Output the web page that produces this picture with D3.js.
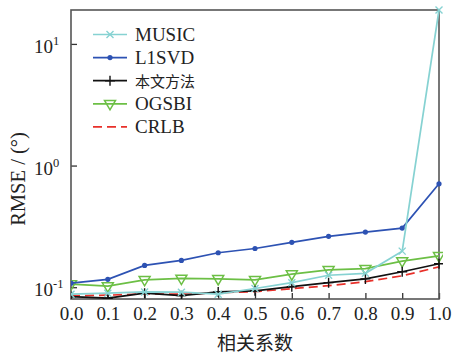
<!DOCTYPE html>
<html>
<head>
<meta charset="utf-8">
<script src="https://cdn.jsdelivr.net/npm/d3@7"></script>
<style>
  body { margin: 0; background: #fff; }
  svg { display: block; }
  text { font-family: "Liberation Serif", "DejaVu Serif", serif; fill: #222; }
  .cjk { font-family: "Noto Sans CJK SC", sans-serif; }
</style>
</head>
<body>
<script>
'use strict';

// correlation coefficient (x axis)
var rho = [0.0, 0.1, 0.2, 0.3, 0.4, 0.5, 0.6, 0.7, 0.8, 0.9, 1.0];

// RMSE values in degrees
var music = [0.0876, 0.0893, 0.0915, 0.091, 0.0876, 0.0976, 0.109, 0.1254, 0.130, 0.198, 19.0];
var l1svd = [0.108, 0.116, 0.151, 0.166, 0.192, 0.208, 0.234, 0.262, 0.284, 0.306, 0.708];
var proposed = [0.0836, 0.0812, 0.0893, 0.0852, 0.0915, 0.0933, 0.101, 0.109, 0.117, 0.134, 0.156];
var ogsbi = [0.106, 0.102, 0.115, 0.118, 0.117, 0.115, 0.128, 0.139, 0.142, 0.164, 0.181];
var crlb = [0.0849, 0.086, 0.0882, 0.0877, 0.0901, 0.0919, 0.0972, 0.103, 0.111, 0.124, 0.147];

var xTicks = [0.0, 0.1, 0.2, 0.3, 0.4, 0.5, 0.6, 0.7, 0.8, 0.9, 1.0];
var yTicks = [0.1, 1, 10];

var series = [
    { name: 'MUSIC', values: music, color: '#86d2d2', marker: 'x', dash: null },
    { name: 'L1SVD', values: l1svd, color: '#2d52b3', marker: 'dot', dash: null },
    { name: '本文方法', values: proposed, color: '#111111', marker: 'plus', dash: null },
    { name: 'OGSBI', values: ogsbi, color: '#6cbf45', marker: 'tri', dash: null },
    { name: 'CRLB', values: crlb, color: '#e8302a', marker: 'none', dash: '9,5' }
];

var W = 453, H = 357;
var margin = { left: 71, right: 14, top: 10, bottom: 58 };

var svg = d3.select('body').append('svg').attr('width', W).attr('height', H);

var x = d3.scaleLinear().domain([0, 1]).range([margin.left, W - margin.right]);
var y = d3.scaleLog().domain([0.08, 19.0]).range([H - margin.bottom, margin.top]);

svg.append('defs').append('clipPath').attr('id', 'clip')
    .append('rect')
    .attr('x', margin.left).attr('y', margin.top - 4)
    .attr('width', W - margin.left - margin.right + 4)
    .attr('height', H - margin.top - margin.bottom + 4);

// axes (ticks inward)
var xAxis = d3.axisBottom(x).tickValues(xTicks).tickSize(-6).tickPadding(8)
    .tickFormat(d3.format('.1f'));
svg.append('g').attr('transform', 'translate(0,' + (H - margin.bottom) + ')')
    .call(xAxis)
    .call(function (g) {
        g.select('.domain').remove();
        g.selectAll('line').attr('stroke', '#333').attr('stroke-width', 1.3);
        g.selectAll('text').attr('font-size', 19).attr('fill', '#222')
            .attr('font-family', '"Liberation Serif", serif');
    });

var yAxis = d3.axisLeft(y).tickValues(yTicks).tickSize(-6).tickFormat('');
var ya = svg.append('g').attr('transform', 'translate(' + margin.left + ',0)').call(yAxis);
ya.select('.domain').remove();
ya.selectAll('line').attr('stroke', '#333').attr('stroke-width', 1.3);

// y tick labels as 10^n
yTicks.forEach(function (v) {
    var t = svg.append('text')
        .attr('x', 34).attr('y', y(v) + 9)
        .attr('font-size', 19);
    t.append('tspan').text('10');
    t.append('tspan').attr('font-size', 12.5).attr('dy', -8).text(Math.round(Math.log10(v)));
});

// frame
svg.append('rect')
    .attr('x', margin.left).attr('y', margin.top)
    .attr('width', W - margin.left - margin.right)
    .attr('height', H - margin.top - margin.bottom)
    .attr('fill', 'none').attr('stroke', '#555').attr('stroke-width', 1.6);

// lines
var line = d3.line()
    .x(function (d, i) { return x(rho[i]); })
    .y(function (d) { return y(d); });

var lines = svg.append('g').attr('clip-path', 'url(#clip)');

function drawMarker(g, type, cx, cy, color) {
    if (type === 'x') {
        var s = 3.5;
        g.append('path')
            .attr('d', 'M' + (cx - s) + ',' + (cy - s) + 'L' + (cx + s) + ',' + (cy + s) +
                'M' + (cx - s) + ',' + (cy + s) + 'L' + (cx + s) + ',' + (cy - s))
            .attr('stroke', color).attr('stroke-width', 1.4).attr('fill', 'none');
    } else if (type === 'dot') {
        g.append('circle').attr('cx', cx).attr('cy', cy).attr('r', 2.6).attr('fill', color);
    } else if (type === 'plus') {
        var p = 5;
        g.append('path')
            .attr('d', 'M' + (cx - p) + ',' + cy + 'L' + (cx + p) + ',' + cy +
                'M' + cx + ',' + (cy - p) + 'L' + cx + ',' + (cy + p))
            .attr('stroke', color).attr('stroke-width', 1.4).attr('fill', 'none');
    } else if (type === 'tri') {
        var a = 5.5;
        g.append('path')
            .attr('d', 'M' + (cx - a) + ',' + (cy - a * 0.6) + 'L' + (cx + a) + ',' + (cy - a * 0.6) +
                'L' + cx + ',' + (cy + a * 1.1) + 'Z')
            .attr('stroke', color).attr('stroke-width', 1.5).attr('fill', 'none');
    }
}

series.slice().reverse().forEach(function (s) {
    lines.append('path')
        .datum(s.values)
        .attr('d', line)
        .attr('fill', 'none')
        .attr('stroke', s.color)
        .attr('stroke-width', 1.7)
        .attr('stroke-dasharray', s.dash);
    s.values.forEach(function (v, i) {
        drawMarker(lines, s.marker, x(rho[i]), y(v), s.color);
    });
});

// legend
var legend = svg.append('g');
series.forEach(function (s, i) {
    var ly = 34.5 + i * 23.1;
    legend.append('line')
        .attr('x1', 93).attr('x2', 127).attr('y1', ly).attr('y2', ly)
        .attr('stroke', s.color).attr('stroke-width', 1.7)
        .attr('stroke-dasharray', s.dash);
    drawMarker(legend, s.marker, 110, ly, s.color);
    var t = legend.append('text')
        .attr('x', 135).attr('y', ly + 6.5)
        .text(s.name);
    if (/[\u4e00-\u9fff]/.test(s.name)) {
        t.attr('class', 'cjk').attr('font-size', 15).attr('y', ly + 6);
    } else {
        t.attr('font-size', 19);
    }
});

// axis titles
svg.append('text')
    .attr('class', 'cjk')
    .attr('x', (margin.left + W - margin.right) / 2).attr('y', 350)
    .attr('text-anchor', 'middle').attr('font-size', 19)
    .text('相关系数');

svg.append('text')
    .attr('transform', 'translate(25,' + 179 + ') rotate(-90)')
    .attr('text-anchor', 'middle').attr('font-size', 20.5)
    .text('RMSE / (°)');
</script>
</body>
</html>
